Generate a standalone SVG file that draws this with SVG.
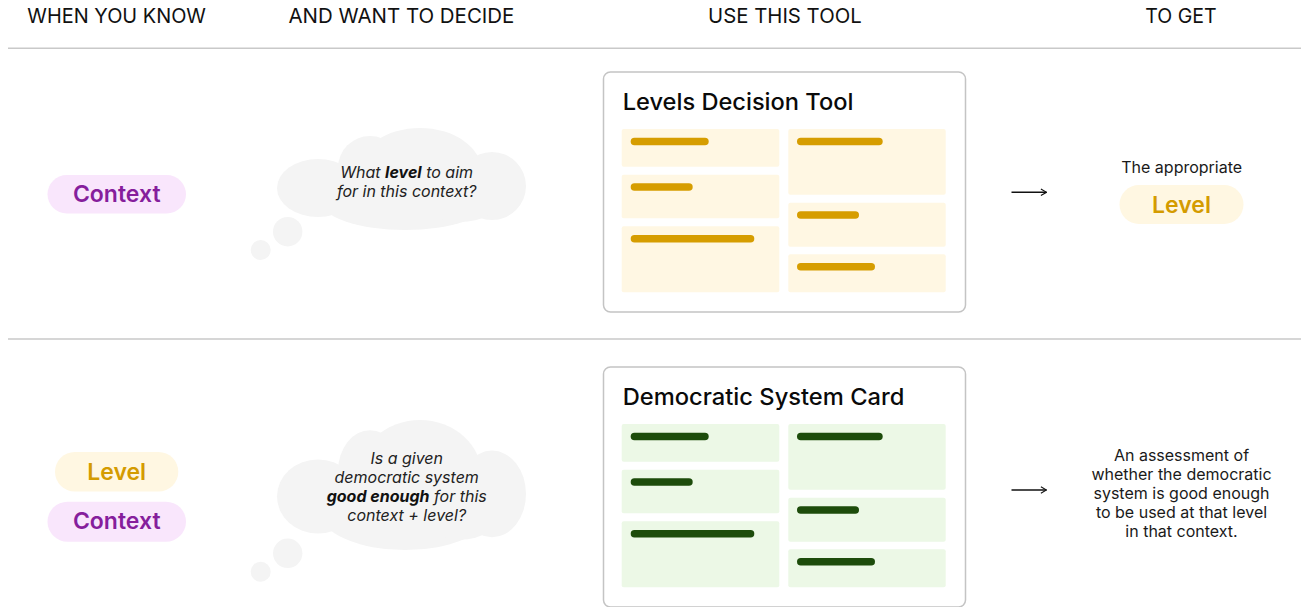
<svg xmlns="http://www.w3.org/2000/svg" width="1301" height="607" viewBox="0 0 1301 607">
  <style>
    .hdr { font-family: Inter, "Liberation Sans", sans-serif; font-size: 20px; fill: #111; }
    .div { stroke: #c9c9c9; stroke-width: 1.5; }
    .cloud { fill: #f4f4f4; }
    .q { font-family: Inter, "Liberation Sans", sans-serif; font-size: 16px; font-style: italic; fill: #222; text-anchor: middle; }
    .pill-c { fill: #f9e6fc; }
    .pill-l { fill: #fff7e2; }
    .t-c { font-family: Inter, "Liberation Sans", sans-serif; font-size: 23px; font-weight: 600; fill: #861e9c; text-anchor: middle; }
    .t-l { font-family: Inter, "Liberation Sans", sans-serif; font-size: 23px; font-weight: 600; fill: #d49b00; text-anchor: middle; }
    .card { fill: #ffffff; stroke: #c4c4c4; stroke-width: 1.5; }
    .title { font-family: Inter, "Liberation Sans", sans-serif; font-size: 23px; font-weight: 500; fill: #0a0a0a; }
    .yb { fill: #fff7e3; }
    .ybar { fill: #d69d00; }
    .gb { fill: #ecf8e6; }
    .gbar { fill: #1d4c0b; }
    .out { font-family: Inter, "Liberation Sans", sans-serif; font-size: 16px; fill: #1a1a1a; text-anchor: middle; }
    .arrow { stroke: #111; stroke-width: 1.4; fill: none; }
  </style>
  <defs>
    <g id="cloudBody" class="cloud">
      <ellipse cx="41" cy="60" rx="41" ry="29"/>
      <ellipse cx="143" cy="44" rx="62" ry="44"/>
      <ellipse cx="93" cy="40" rx="32" ry="32"/>
      <ellipse cx="215" cy="58" rx="34" ry="34"/>
      <ellipse cx="128" cy="72" rx="85" ry="30"/>
      <ellipse cx="183" cy="72" rx="40" ry="22"/>
    </g>
    <marker id="chev" viewBox="0 0 10 10" refX="9" refY="5" markerWidth="8" markerHeight="8" markerUnits="userSpaceOnUse" orient="auto">
      <path d="M2,1 L9,5 L2,9" fill="none" stroke="#111" stroke-width="1.4"/>
    </marker>
  </defs>

  <g id="headers">
    <text class="hdr" x="27.3" y="23.3" textLength="178.7" lengthAdjust="spacingAndGlyphs">WHEN YOU KNOW</text>
    <text class="hdr" x="288.4" y="23.3" textLength="226" lengthAdjust="spacingAndGlyphs">AND WANT TO DECIDE</text>
    <text class="hdr" x="708.1" y="23.3" textLength="153.6" lengthAdjust="spacingAndGlyphs">USE THIS TOOL</text>
    <text class="hdr" x="1145.2" y="23.3" textLength="71.4" lengthAdjust="spacingAndGlyphs">TO GET</text>
  </g>
  <g id="dividers">
    <line class="div" x1="8" y1="48.3" x2="1301" y2="48.3"/>
    <line class="div" x1="8" y1="339" x2="1301" y2="339"/>
  </g>

  <!-- Row 1 -->
  <g id="know-context-1">
    <rect class="pill-c" x="47.5" y="175" width="138.5" height="38.5" rx="19.25"/>
    <text class="t-c" x="116.7" y="202">Context</text>
  </g>
  <g id="thought-1">
    <use href="#cloudBody" transform="translate(277,128)"/>
    <circle class="cloud" cx="287.7" cy="231.7" r="14.7"/>
    <circle class="cloud" cx="260.7" cy="250" r="10"/>
    <text class="q" x="406.7" y="177.5">What <tspan font-weight="700" fill="#111">level</tspan> to aim</text>
    <text class="q" x="406.7" y="196.5">for in this context?</text>
  </g>
  <g id="tool-1">
    <rect class="card" x="603.5" y="72" width="362" height="240" rx="7"/>
    <text class="title" x="622.7" y="110" textLength="230.7" lengthAdjust="spacingAndGlyphs">Levels Decision Tool</text>
    <rect class="yb" x="621.7" y="129" width="157.6" height="37.7" rx="2"/>
    <rect class="yb" x="621.7" y="174.7" width="157.6" height="43.6" rx="2"/>
    <rect class="yb" x="621.7" y="226.3" width="157.6" height="66" rx="2"/>
    <rect class="yb" x="788.3" y="129" width="157.4" height="65.7" rx="2"/>
    <rect class="yb" x="788.3" y="202.7" width="157.4" height="44" rx="2"/>
    <rect class="yb" x="788.3" y="254.3" width="157.4" height="38" rx="2"/>
    <rect class="ybar" x="630.7" y="137.7" width="78" height="7.5" rx="3.75"/>
    <rect class="ybar" x="630.7" y="183.3" width="62" height="7.5" rx="3.75"/>
    <rect class="ybar" x="630.7" y="235" width="123.6" height="7.5" rx="3.75"/>
    <rect class="ybar" x="797" y="137.7" width="85.7" height="7.5" rx="3.75"/>
    <rect class="ybar" x="797" y="211.3" width="62" height="7.5" rx="3.75"/>
    <rect class="ybar" x="797" y="263" width="78" height="7.5" rx="3.75"/>
  </g>
  <g id="result-1">
    <text class="out" x="1181.7" y="172.7">The appropriate</text>
    <rect class="pill-l" x="1119.5" y="185" width="124" height="39" rx="19.5"/>
    <text class="t-l" x="1181.5" y="213">Level</text>
  </g>

  <!-- Row 2 -->
  <g id="know-level-2">
    <rect class="pill-l" x="55" y="452" width="123.3" height="39.5" rx="19.75"/>
    <text class="t-l" x="116.7" y="480">Level</text>
  </g>
  <g id="know-context-2">
    <rect class="pill-c" x="47.5" y="501.7" width="138.5" height="40" rx="20"/>
    <text class="t-c" x="116.7" y="529">Context</text>
  </g>
  <g id="thought-2">
    <use href="#cloudBody" transform="translate(277,420) scale(1,1.275)"/>
    <circle class="cloud" cx="287.7" cy="553.3" r="14.7"/>
    <circle class="cloud" cx="260.7" cy="571.7" r="10"/>
    <text class="q" x="406.7" y="463.5">Is a given</text>
    <text class="q" x="406.7" y="482.5">democratic system</text>
    <text class="q" x="406.7" y="501.5"><tspan font-weight="700" fill="#111">good enough</tspan> for this</text>
    <text class="q" x="406.7" y="520.5">context + level?</text>
  </g>
  <g id="tool-2">
    <rect class="card" x="603.5" y="367" width="362" height="240" rx="7"/>
    <text class="title" x="622.7" y="405" textLength="281.7" lengthAdjust="spacingAndGlyphs">Democratic System Card</text>
    <rect class="gb" x="621.7" y="424" width="157.6" height="37.7" rx="2"/>
    <rect class="gb" x="621.7" y="469.7" width="157.6" height="43.6" rx="2"/>
    <rect class="gb" x="621.7" y="521.3" width="157.6" height="66" rx="2"/>
    <rect class="gb" x="788.3" y="424" width="157.4" height="65.7" rx="2"/>
    <rect class="gb" x="788.3" y="497.7" width="157.4" height="44" rx="2"/>
    <rect class="gb" x="788.3" y="549.3" width="157.4" height="38" rx="2"/>
    <rect class="gbar" x="630.7" y="432.7" width="78" height="7.5" rx="3.75"/>
    <rect class="gbar" x="630.7" y="478.3" width="62" height="7.5" rx="3.75"/>
    <rect class="gbar" x="630.7" y="530" width="123.6" height="7.5" rx="3.75"/>
    <rect class="gbar" x="797" y="432.7" width="85.7" height="7.5" rx="3.75"/>
    <rect class="gbar" x="797" y="506.3" width="62" height="7.5" rx="3.75"/>
    <rect class="gbar" x="797" y="558" width="78" height="7.5" rx="3.75"/>
  </g>
  <g id="result-2">
    <text class="out" x="1181.5" y="461">An assessment of</text>
    <text class="out" x="1181.5" y="480">whether the democratic</text>
    <text class="out" x="1181.5" y="499">system is good enough</text>
    <text class="out" x="1181.5" y="518">to be used at that level</text>
    <text class="out" x="1181.5" y="537">in that context.</text>
  </g>

  <g id="connectors">
    <line class="arrow" x1="1011.5" y1="192.3" x2="1046.5" y2="192.3" marker-end="url(#chev)"/>
    <line class="arrow" x1="1011.5" y1="490" x2="1046.5" y2="490" marker-end="url(#chev)"/>
  </g>
</svg>
